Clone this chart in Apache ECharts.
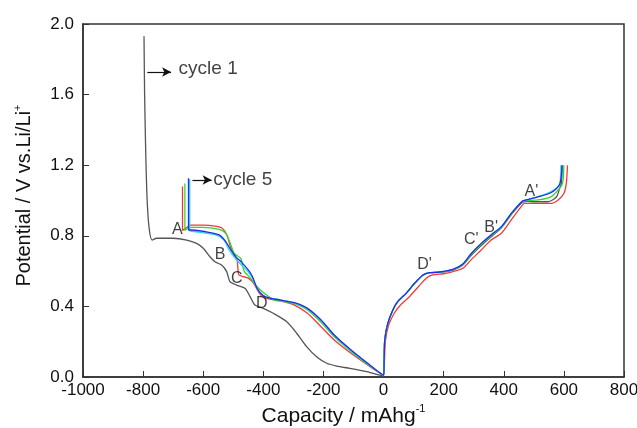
<!DOCTYPE html>
<html>
<head>
<meta charset="utf-8">
<script src="https://cdn.jsdelivr.net/npm/echarts@6/dist/echarts.min.js"></script>
<style>
  html, body { margin: 0; padding: 0; background: #fff; }
  #chart { width: 637px; height: 428px; }
</style>
</head>
<body>
<div id="chart"></div>
<script>
// capacity (mAh/g), potential (V); discharge is negative, charge positive
var cycle1 = [
  [-797, 1.93], [-795, 1.6], [-791, 1.25], [-786, 0.98], [-779, 0.83], [-770, 0.776],
  [-755, 0.786], [-700, 0.786], [-655, 0.776], [-622, 0.757], [-600, 0.729], [-577, 0.68],
  [-561, 0.653], [-539, 0.634], [-522, 0.597], [-511, 0.54], [-489, 0.521], [-461, 0.503],
  [-444, 0.455], [-428, 0.408], [-400, 0.389], [-367, 0.361], [-322, 0.313], [-289, 0.248],
  [-256, 0.172], [-223, 0.115], [-189, 0.078], [-156, 0.062], [-112, 0.049], [-56, 0.03],
  [0, 0.005],
  [2, 0.1], [4, 0.21], [14, 0.304], [31, 0.38], [47, 0.427], [75, 0.474], [103, 0.531],
  [131, 0.578], [153, 0.591], [186, 0.593], [231, 0.606], [264, 0.635], [292, 0.69],
  [325, 0.745], [358, 0.795], [392, 0.845], [425, 0.92], [458, 0.985], [475, 0.995],
  [503, 0.993], [547, 0.993], [575, 1.02], [586, 1.07], [592, 1.1], [594, 1.2]
];
var cycle2 = [
  [-669, 1.08], [-669, 0.83], [-658, 0.842], [-642, 0.861], [-600, 0.861], [-560, 0.855],
  [-536, 0.842], [-520, 0.80], [-510, 0.74], [-495, 0.69], [-487, 0.66], [-482, 0.58],
  [-470, 0.57], [-450, 0.56], [-432, 0.53], [-415, 0.48], [-400, 0.452], [-375, 0.44],
  [-340, 0.43], [-300, 0.41], [-253, 0.361], [-208, 0.285], [-164, 0.21], [-108, 0.134],
  [-53, 0.068], [0, 0.01],
  [3, 0.09], [6, 0.2], [16, 0.29], [35, 0.36], [55, 0.405], [86, 0.455], [115, 0.51],
  [142, 0.56], [164, 0.578], [200, 0.585], [231, 0.597], [264, 0.616], [292, 0.665],
  [325, 0.72], [358, 0.776], [392, 0.814], [425, 0.89], [458, 0.965], [469, 0.984],
  [514, 0.984], [558, 0.984], [581, 1.003], [600, 1.04], [608, 1.097], [612, 1.2]
];
var cycle3 = [
  [-661, 1.097], [-661, 0.83], [-647, 0.848], [-603, 0.848], [-547, 0.837], [-525, 0.814],
  [-508, 0.748], [-497, 0.70], [-475, 0.672], [-464, 0.6], [-442, 0.559], [-420, 0.51],
  [-397, 0.474], [-364, 0.436], [-342, 0.43], [-297, 0.415], [-253, 0.38], [-208, 0.31],
  [-164, 0.228], [-108, 0.145], [-53, 0.072], [0, 0.01],
  [2, 0.096], [4, 0.21], [14, 0.3], [31, 0.378], [47, 0.425], [75, 0.472], [103, 0.528],
  [131, 0.575], [153, 0.59], [186, 0.594], [231, 0.608], [264, 0.637], [292, 0.695],
  [325, 0.752], [358, 0.8], [392, 0.848], [425, 0.922], [458, 0.99], [470, 0.999],
  [514, 1.003], [558, 1.022], [586, 1.07], [596, 1.1], [600, 1.2]
];
var cycle4 = [
  [-645, 1.12], [-645, 0.83], [-625, 0.823], [-558, 0.805], [-531, 0.776], [-514, 0.72],
  [-492, 0.67], [-470, 0.63], [-450, 0.595], [-436, 0.56], [-420, 0.5], [-400, 0.462],
  [-375, 0.447], [-342, 0.437], [-297, 0.42], [-253, 0.387], [-208, 0.32], [-164, 0.235],
  [-108, 0.15], [-53, 0.076], [0, 0.01],
  [2, 0.096], [4, 0.21], [14, 0.304], [31, 0.38], [47, 0.427], [75, 0.474], [103, 0.531],
  [131, 0.578], [153, 0.591], [186, 0.595], [231, 0.61], [264, 0.64], [292, 0.7],
  [325, 0.757], [358, 0.805], [392, 0.852], [425, 0.927], [458, 0.99], [470, 1.0],
  [514, 1.022], [558, 1.05], [586, 1.097], [590, 1.2]
];
var cycle5 = [
  [-649, 1.126], [-649, 0.833], [-636, 0.833], [-592, 0.823], [-547, 0.805], [-525, 0.767],
  [-508, 0.72], [-492, 0.682], [-469, 0.644], [-447, 0.6], [-436, 0.568], [-420, 0.5],
  [-400, 0.46], [-375, 0.445], [-342, 0.436], [-297, 0.421], [-253, 0.389], [-208, 0.323],
  [-164, 0.238], [-108, 0.153], [-53, 0.078], [0, 0.01],
  [2, 0.096], [4, 0.21], [14, 0.304], [31, 0.38], [47, 0.427], [75, 0.474], [103, 0.531],
  [131, 0.578], [153, 0.591], [186, 0.595], [231, 0.61], [264, 0.64], [292, 0.7],
  [325, 0.757], [358, 0.805], [392, 0.852], [425, 0.927], [458, 0.99], [464, 0.999],
  [514, 1.02], [558, 1.045], [586, 1.09], [594, 1.2]
];

var curveColors = ['#555555', '#f03a3a', '#2ed82e', '#22d8f0', '#2a2ae8'];

// letters marking the plateaus, [capacity, potential, text]
var peakLabels = [
  [-686, 0.833, 'A'], [-544, 0.691, 'B'], [-488, 0.559, 'C'], [-405, 0.414, 'D'],
  [136, 0.635, "D'"], [292, 0.776, "C'"], [358, 0.844, "B'"], [492, 1.05, "A'"]
];
var cycleNotes = [
  [-682, 1.745, 'cycle 1'], [-567, 1.116, 'cycle 5']
];
var cycleArrows = [
  [[-786, 1.728], [-707, 1.728]],
  [[-636, 1.116], [-572, 1.116]]
];

var chartDom = document.getElementById('chart');
var myChart = echarts.init(chartDom);
var option;

var font = 'Liberation Sans, Arial, sans-serif';

function curve (data, color) {
  return {
    type: 'line',
    data: data,
    showSymbol: false,
    smooth: 0.25,
    lineStyle: { color: color, width: 1.3 },
    z: 2
  };
}

var series = [cycle1, cycle2, cycle3, cycle4, cycle5].map(function (d, i) {
  return curve(d, curveColors[i]);
});

series.push({
  type: 'scatter',
  symbolSize: 0,
  data: peakLabels.map(function (p) { return { value: [p[0], p[1]], name: p[2] }; }),
  label: {
    show: true, position: 'inside', formatter: '{b}',
    color: '#111', fontSize: 16, fontFamily: font
  },
  silent: true,
  z: 5
});

series.push({
  type: 'scatter',
  symbolSize: 0,
  data: cycleNotes.map(function (p) { return { value: [p[0], p[1]], name: p[2] }; }),
  label: {
    show: true, position: 'right', distance: 0, formatter: '{b}',
    color: '#111', fontSize: 19, fontFamily: font
  },
  silent: true,
  markLine: {
    silent: true,
    symbol: ['none', 'arrow'],
    symbolSize: [7, 9],
    label: { show: false },
    lineStyle: { color: '#111', width: 1.2, type: 'solid' },
    data: cycleArrows.map(function (a) {
      return [{ coord: a[0] }, { coord: a[1] }];
    })
  },
  z: 5
});

option = {
  animation: false,
  backgroundColor: '#fff',
  grid: {
    left: 83, right: 13, top: 24, bottom: 51,
    outerBoundsMode: 'none',
    show: true, borderColor: '#333', borderWidth: 1.5
  },
  xAxis: {
    type: 'value',
    min: -1000, max: 800, interval: 200,
    name: '{a|Capacity / mAhg}{sup|-1}',
    nameLocation: 'middle',
    nameGap: 26,
    nameTextStyle: {
      padding: [0, 20, 0, 0],
      rich: {
        a: { fontSize: 21, fontFamily: font, color: '#111', lineHeight: 24 },
        sup: { fontSize: 11, fontFamily: font, color: '#111', lineHeight: 12, verticalAlign: 'top' }
      }
    },
    axisLine: { onZero: false, lineStyle: { color: '#333', width: 1.5 } },
    axisTick: { inside: true, length: 6, lineStyle: { color: '#333' } },
    axisLabel: {
      color: '#111', fontSize: 17, fontFamily: font, margin: 5,
      formatter: function (v) { return String(v); }
    },
    splitLine: { show: false }
  },
  yAxis: {
    type: 'value',
    min: 0, max: 2.0, interval: 0.4,
    name: '{a|Potential / V vs.Li/Li}{sup|+}',
    nameLocation: 'middle',
    nameGap: 47,
    nameTextStyle: {
      padding: [0, 0, 0, 10],
      rich: {
        a: { fontSize: 20, fontFamily: font, color: '#111', lineHeight: 24 },
        sup: { fontSize: 11, fontFamily: font, color: '#111', lineHeight: 12, verticalAlign: 'top' }
      }
    },
    axisLine: { onZero: false, lineStyle: { color: '#333', width: 1.5 } },
    axisTick: { inside: true, length: 6, lineStyle: { color: '#333' } },
    axisLabel: {
      color: '#111', fontSize: 17, fontFamily: font, margin: 9,
      formatter: function (v) { return v.toFixed(1); }
    },
    splitLine: { show: false }
  },
  series: series
};

option && myChart.setOption(option);
</script>
</body>
</html>
